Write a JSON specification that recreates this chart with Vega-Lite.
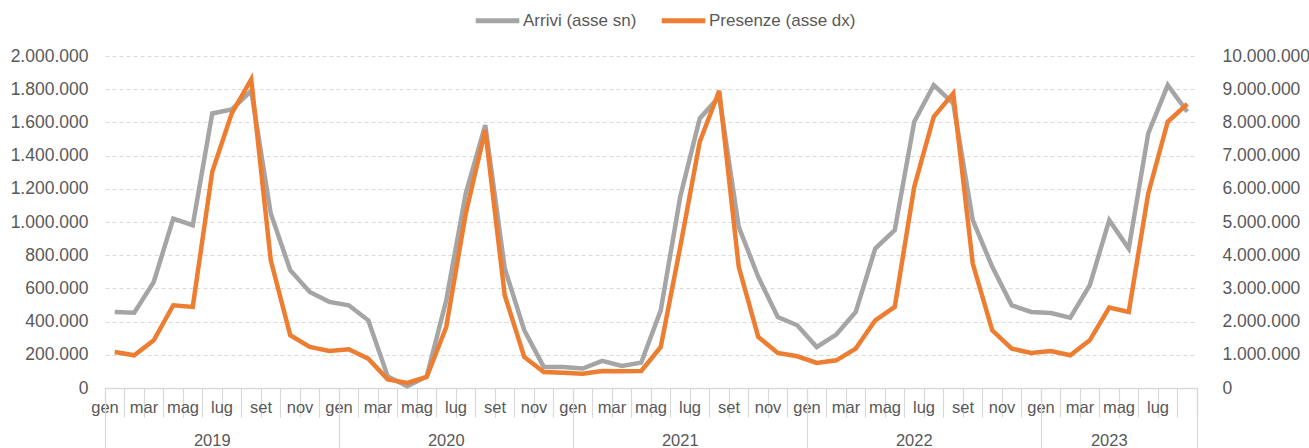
{
  "$schema": "https://vega.github.io/schema/vega-lite/v6.json",
  "width": 1092,
  "height": 332,
  "autosize": {"type": "none"},
  "padding": {"left": 105, "top": 56, "right": 112, "bottom": 60},
  "config": {
    "locale": {"number": {"decimal": ",", "thousands": ".", "grouping": [3], "currency": ["€", ""]}},
    "view": {"stroke": null},
    "font": "Liberation Sans",
    "axis": {"labelFont": "Liberation Sans", "labelFontSize": 16, "labelColor": "#595959"}
  },
  "data": {"values": [
    {"m": "2019-01", "arr": 458000, "pres": 1085000},
    {"m": "2019-02", "arr": 454000, "pres": 985000},
    {"m": "2019-03", "arr": 639000, "pres": 1437000},
    {"m": "2019-04", "arr": 1021000, "pres": 2492000},
    {"m": "2019-05", "arr": 981000, "pres": 2442000},
    {"m": "2019-06", "arr": 1654000, "pres": 6513000},
    {"m": "2019-07", "arr": 1678000, "pres": 8271000},
    {"m": "2019-08", "arr": 1790000, "pres": 9296000},
    {"m": "2019-09", "arr": 1051000, "pres": 3849000},
    {"m": "2019-10", "arr": 710000, "pres": 1588000},
    {"m": "2019-11", "arr": 579000, "pres": 1236000},
    {"m": "2019-12", "arr": 519000, "pres": 1116000},
    {"m": "2020-01", "arr": 498000, "pres": 1166000},
    {"m": "2020-02", "arr": 408000, "pres": 884000},
    {"m": "2020-03", "arr": 70000, "pres": 260000},
    {"m": "2020-04", "arr": 10000, "pres": 151000},
    {"m": "2020-05", "arr": 70000, "pres": 332000},
    {"m": "2020-06", "arr": 529000, "pres": 1839000},
    {"m": "2020-07", "arr": 1172000, "pres": 5256000},
    {"m": "2020-08", "arr": 1584000, "pres": 7769000},
    {"m": "2020-09", "arr": 720000, "pres": 2794000},
    {"m": "2020-10", "arr": 348000, "pres": 935000},
    {"m": "2020-11", "arr": 127000, "pres": 482000},
    {"m": "2020-12", "arr": 127000, "pres": 462000},
    {"m": "2021-01", "arr": 117000, "pres": 432000},
    {"m": "2021-02", "arr": 163000, "pres": 513000},
    {"m": "2021-03", "arr": 133000, "pres": 503000},
    {"m": "2021-04", "arr": 153000, "pres": 513000},
    {"m": "2021-05", "arr": 468000, "pres": 1236000},
    {"m": "2021-06", "arr": 1152000, "pres": 4251000},
    {"m": "2021-07", "arr": 1624000, "pres": 7417000},
    {"m": "2021-08", "arr": 1755000, "pres": 8955000},
    {"m": "2021-09", "arr": 971000, "pres": 3648000},
    {"m": "2021-10", "arr": 669000, "pres": 1538000},
    {"m": "2021-11", "arr": 428000, "pres": 1055000},
    {"m": "2021-12", "arr": 378000, "pres": 955000},
    {"m": "2022-01", "arr": 247000, "pres": 754000},
    {"m": "2022-02", "arr": 322000, "pres": 834000},
    {"m": "2022-03", "arr": 458000, "pres": 1186000},
    {"m": "2022-04", "arr": 840000, "pres": 2040000},
    {"m": "2022-05", "arr": 951000, "pres": 2442000},
    {"m": "2022-06", "arr": 1604000, "pres": 6060000},
    {"m": "2022-07", "arr": 1825000, "pres": 8171000},
    {"m": "2022-08", "arr": 1715000, "pres": 8874000},
    {"m": "2022-09", "arr": 1011000, "pres": 3749000},
    {"m": "2022-10", "arr": 730000, "pres": 1739000},
    {"m": "2022-11", "arr": 498000, "pres": 1186000},
    {"m": "2022-12", "arr": 458000, "pres": 1055000},
    {"m": "2023-01", "arr": 452000, "pres": 1116000},
    {"m": "2023-02", "arr": 424000, "pres": 985000},
    {"m": "2023-03", "arr": 619000, "pres": 1437000},
    {"m": "2023-04", "arr": 1011000, "pres": 2422000},
    {"m": "2023-05", "arr": 840000, "pres": 2291000},
    {"m": "2023-06", "arr": 1534000, "pres": 5859000},
    {"m": "2023-07", "arr": 1825000, "pres": 8020000},
    {"m": "2023-08", "arr": 1664000, "pres": 8553000}
  ]},
  "layer": [
    {
      "mark": {"type": "line", "strokeWidth": 4.5},
      "encoding": {
        "x": {
          "field": "m", "type": "ordinal", "bandPosition": 0.5,
          "scale": {"type": "band", "paddingInner": 0, "paddingOuter": 0},
          "axis": {
            "title": null, "orient": "bottom", "ticks": true, "tickSize": 29,
            "tickColor": "#D9D9D9", "tickWidth": 1.2, "bandPosition": 1, "tickExtra": true,
            "domain": true, "domainColor": "#D9D9D9", "domainWidth": 1.5, "labelAngle": 0,
            "labelFontSize": 16.5,
            "labelPadding": -18, "labelOffset": -9.75, "labelOverlap": false,
            "labelExpr": "datum.value && toNumber(slice(datum.value,5,7)) % 2 == 1 ? ['gen','feb','mar','apr','mag','giu','lug','ago','set','ott','nov','dic'][toNumber(slice(datum.value,5,7))-1] : ''"
          }
        },
        "y": {
          "field": "arr", "type": "quantitative",
          "scale": {"domain": [0, 2000000], "nice": false},
          "axis": {
            "title": null, "orient": "left",
            "values": [0, 200000, 400000, 600000, 800000, 1000000, 1200000, 1400000, 1600000, 1800000, 2000000],
            "format": ",d", "domain": false, "ticks": false, "labelPadding": 17, "labelFontSize": 17.5,
            "grid": true, "gridColor": "#D9D9D9", "gridDash": [4, 3], "gridWidth": 1
          }
        },
        "color": {
          "datum": "Arrivi (asse sn)", "type": "nominal",
          "scale": {"domain": ["Arrivi (asse sn)", "Presenze (asse dx)"], "range": ["#A5A5A5", "#ED7D31"]},
          "legend": {
            "title": null, "orient": "none", "legendX": 368, "legendY": -60, "direction": "horizontal",
            "symbolType": "stroke", "symbolStrokeWidth": 5, "symbolSize": 1900,
            "labelFont": "Liberation Sans", "labelFontSize": 17, "labelColor": "#595959",
            "columnPadding": 14, "labelOffset": 1
          }
        }
      }
    },
    {
      "mark": {"type": "line", "strokeWidth": 4.5},
      "encoding": {
        "x": {
          "field": "m", "type": "ordinal", "bandPosition": 0.5,
          "scale": {"type": "band", "paddingInner": 0, "paddingOuter": 0},
          "axis": {
            "title": null, "orient": "bottom", "domain": false, "ticks": true,
            "bandPosition": 1, "tickExtra": true, "tickColor": "#D9D9D9", "tickWidth": 1.2,
            "tickSize": 62,
            "tickOpacity": {"condition": {"test": "!datum.value || slice(datum.value,5,7)=='12' || datum.value=='2023-08'", "value": 1}, "value": 0},
            "labelAngle": 0, "labelPadding": -18, "labelFontSize": 16.5, "labelOverlap": false,
            "labelExpr": "datum.value && ((slice(datum.value,5,7)=='06' && slice(datum.value,0,4)!='2023') || datum.value=='2023-04') ? slice(datum.value,0,4) : ''"
          }
        },
        "y": {
          "field": "pres", "type": "quantitative",
          "scale": {"domain": [0, 10000000], "nice": false},
          "axis": {
            "title": null, "orient": "right",
            "values": [0, 1000000, 2000000, 3000000, 4000000, 5000000, 6000000, 7000000, 8000000, 9000000, 10000000],
            "format": ",d", "domain": false, "ticks": false, "labelPadding": 25, "labelFontSize": 17.5, "grid": false
          }
        },
        "color": {"datum": "Presenze (asse dx)", "type": "nominal"}
      }
    }
  ],
  "resolve": {"scale": {"y": "independent"}, "axis": {"x": "independent"}}
}
